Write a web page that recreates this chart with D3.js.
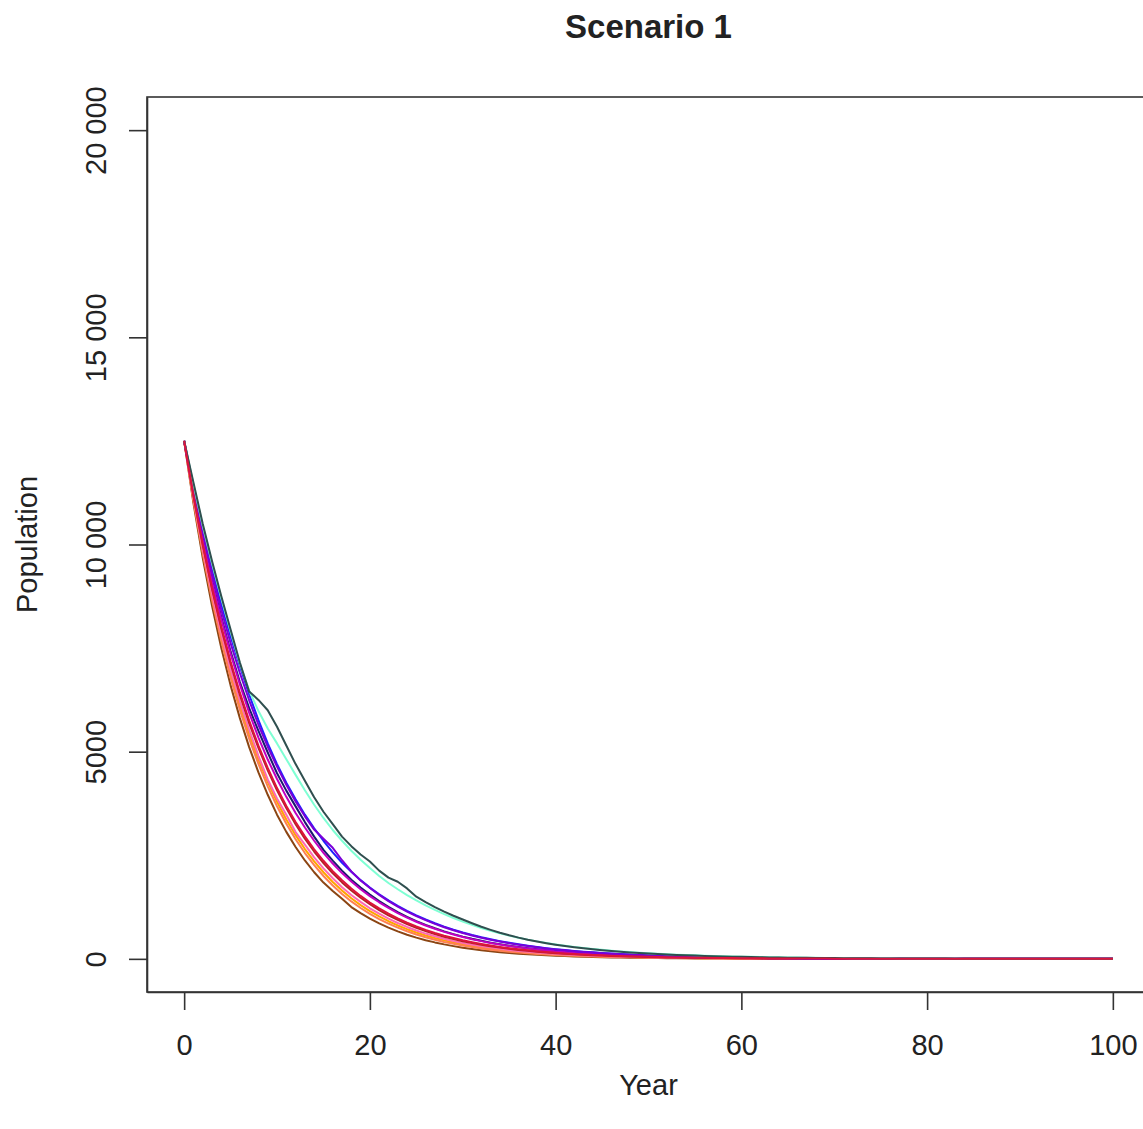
<!DOCTYPE html>
<html>
<head>
<meta charset="utf-8">
<script src="https://cdn.jsdelivr.net/npm/d3@7"></script>
<style>
  body { margin: 0; background: #fff; }
  svg { display: block; font-family: "Liberation Sans", Arial, sans-serif; }
</style>
</head>
<body>
<svg id="chart" width="1143" height="1129"></svg>
<script>
// years of the simulation
var years = [0, 1, 2, 3, 4, 5, 6, 7, 8, 9, 10,
  11, 12, 13, 14, 15, 16, 17, 18, 19, 20,
  21, 22, 23, 24, 25, 26, 27, 28, 29, 30,
  31, 32, 33, 34, 35, 36, 37, 38, 39, 40,
  41, 42, 43, 44, 45, 46, 47, 48, 49, 50,
  51, 52, 53, 54, 55, 56, 57, 58, 59, 60,
  61, 62, 63, 64, 65, 66, 67, 68, 69, 70,
  71, 72, 73, 74, 75, 76, 77, 78, 79, 80,
  81, 82, 83, 84, 85, 86, 87, 88, 89, 90,
  91, 92, 93, 94, 95, 96, 97, 98, 99, 100];

// population per run
var runSaddle = [12500, 11000, 9680, 8520, 7500, 6600, 5810, 5110, 4500, 3960, 3480,
  3065, 2700, 2375, 2090, 1840, 1640, 1450, 1250, 1105, 972,
  855, 752, 662, 583, 513, 451, 397, 349, 307, 270,
  238, 209, 184, 162, 143, 126, 111, 97, 86, 75,
  66, 58, 51, 45, 40, 35, 31, 27, 24, 21,
  18, 16, 14, 12, 11, 10, 9, 8, 7, 6,
  5, 5, 4, 4, 3, 3, 2, 2, 2, 2,
  2, 1, 1, 1, 1, 1, 1, 1, 1, 0,
  0, 0, 0, 0, 0, 0, 0, 0, 0, 0,
  0, 0, 0, 0, 0, 0, 0, 0, 0, 0];
var runOrange = [12500, 11090, 9840, 8730, 7750, 6880, 6110, 5420, 4810, 4270, 3790,
  3365, 2985, 2650, 2355, 2090, 1855, 1647, 1462, 1298, 1152,
  1023, 908, 806, 716, 636, 565, 502, 446, 396, 352,
  312, 277, 246, 219, 194, 172, 153, 136, 121, 107,
  95, 85, 75, 67, 59, 53, 47, 42, 37, 33,
  29, 26, 23, 20, 18, 16, 14, 13, 11, 10,
  9, 8, 7, 6, 6, 5, 4, 4, 4, 3,
  3, 3, 2, 2, 2, 2, 1, 1, 1, 1,
  1, 1, 1, 1, 1, 1, 0, 0, 0, 0,
  0, 0, 0, 0, 0, 0, 0, 0, 0, 0];
var runCoral = [12500, 11063, 9790, 8664, 7668, 6786, 6006, 5315, 4704, 4163, 3684,
  3260, 2885, 2554, 2260, 2000, 1770, 1567, 1386, 1227, 1086,
  961, 850, 753, 666, 589, 522, 462, 409, 362, 320,
  283, 251, 222, 196, 174, 154, 136, 120, 107, 94,
  83, 74, 65, 58, 51, 45, 40, 36, 32, 28,
  25, 22, 19, 17, 15, 14, 12, 11, 9, 8,
  7, 7, 6, 5, 5, 4, 4, 3, 3, 3,
  2, 2, 2, 2, 2, 1, 1, 1, 1, 1,
  1, 1, 1, 1, 1, 1, 0, 0, 0, 0,
  0, 0, 0, 0, 0, 0, 0, 0, 0, 0];
var runPink = [12500, 11125, 9900, 8810, 7845, 6980, 6215, 5530, 4900, 4330, 3870,
  3480, 3060, 2755, 2450, 2185, 1945, 1730, 1540, 1375, 1220,
  1090, 970, 865, 770, 685, 610, 545, 485, 430, 385,
  342, 305, 272, 242, 215, 192, 171, 152, 136, 121,
  108, 96, 86, 76, 68, 61, 54, 48, 43, 38,
  34, 30, 27, 24, 21, 19, 17, 15, 13, 12,
  11, 10, 8, 7, 7, 6, 5, 5, 4, 4,
  3, 3, 3, 2, 2, 2, 2, 2, 1, 1,
  1, 1, 1, 1, 1, 1, 1, 0, 0, 0,
  0, 0, 0, 0, 0, 0, 0, 0, 0, 0];
var runFirebrick = [12500, 11180, 9990, 8930, 7980, 7130, 6370, 5690, 5090, 4550, 4070,
  3640, 3250, 2900, 2590, 2310, 2065, 1845, 1650, 1475, 1318,
  1178, 1052, 940, 840, 750, 670, 598, 534, 477, 426,
  381, 340, 304, 271, 242, 216, 193, 172, 154, 137,
  122, 109, 97, 87, 78, 69, 62, 55, 49, 44,
  39, 35, 31, 28, 25, 22, 20, 18, 16, 14,
  13, 11, 10, 9, 8, 7, 6, 6, 5, 5,
  4, 4, 3, 3, 3, 2, 2, 2, 2, 2,
  1, 1, 1, 1, 1, 1, 1, 1, 1, 0,
  0, 0, 0, 0, 0, 0, 0, 0, 0, 0];
var runNavy = [12500, 11300, 10150, 9150, 8250, 7420, 6680, 6050, 5500, 4980, 4480,
  4060, 3680, 3300, 2950, 2630, 2370, 2130, 1910, 1720, 1550,
  1395, 1255, 1130, 1015, 912, 820, 738, 664, 597, 537,
  483, 435, 391, 352, 317, 285, 257, 231, 208, 187,
  168, 151, 136, 123, 110, 99, 89, 80, 72, 65,
  59, 53, 47, 43, 38, 34, 31, 28, 25, 23,
  20, 18, 16, 15, 13, 12, 11, 10, 9, 8,
  7, 6, 6, 5, 5, 4, 4, 3, 3, 3,
  3, 2, 2, 2, 2, 2, 1, 1, 1, 1,
  1, 1, 1, 1, 1, 1, 0, 0, 0, 0];
var runMagenta = [12500, 11250, 10120, 9110, 8200, 7370, 6620, 5940, 5340, 4810, 4340,
  3910, 3520, 3170, 2850, 2560, 2300, 2070, 1865, 1680, 1515,
  1365, 1228, 1105, 995, 895, 806, 725, 652, 587, 528,
  475, 428, 385, 347, 312, 281, 253, 227, 205, 184,
  166, 149, 134, 121, 109, 98, 88, 79, 71, 64,
  58, 52, 47, 42, 38, 34, 31, 28, 25, 22,
  20, 18, 16, 15, 13, 12, 11, 10, 9, 8,
  7, 6, 6, 5, 5, 4, 4, 3, 3, 3,
  3, 2, 2, 2, 2, 2, 1, 1, 1, 1,
  1, 1, 1, 1, 1, 1, 0, 0, 0, 0];
var runBlue = [12500, 11350, 10350, 9420, 8560, 7780, 7060, 6380, 5760, 5200, 4700,
  4250, 3850, 3480, 3150, 2850, 2570, 2320, 2100, 1900, 1720,
  1560, 1410, 1280, 1160, 1050, 950, 860, 778, 704, 637,
  576, 521, 472, 427, 386, 350, 316, 286, 259, 234,
  212, 192, 174, 158, 143, 129, 117, 106, 96, 87,
  78, 71, 64, 58, 53, 48, 43, 39, 35, 32,
  28, 26, 23, 21, 19, 17, 16, 14, 13, 11,
  10, 9, 8, 8, 7, 6, 6, 5, 5, 4,
  4, 3, 3, 3, 3, 2, 2, 2, 2, 2,
  1, 1, 1, 1, 1, 1, 1, 1, 1, 1];
var runViolet = [12500, 11400, 10300, 9300, 8420, 7620, 6900, 6240, 5650, 5120, 4640,
  4200, 3800, 3440, 3120, 2900, 2680, 2380, 2110, 1890, 1710,
  1545, 1395, 1262, 1141, 1033, 934, 845, 764, 691, 625,
  565, 511, 462, 418, 378, 342, 309, 279, 252, 228,
  206, 186, 168, 152, 137, 124, 112, 101, 91, 82,
  74, 67, 60, 54, 49, 44, 40, 36, 32, 29,
  26, 24, 21, 19, 17, 16, 14, 13, 11, 10,
  9, 8, 7, 7, 6, 5, 5, 4, 4, 4,
  3, 3, 3, 2, 2, 2, 2, 2, 1, 1,
  1, 1, 1, 1, 1, 1, 1, 1, 0, 0];
var runAqua = [12500, 11450, 10450, 9550, 8700, 7900, 7120, 6480, 5980, 5560, 5200,
  4820, 4440, 4070, 3720, 3400, 3110, 2850, 2610, 2390, 2190,
  2000, 1830, 1680, 1540, 1410, 1290, 1180, 1080, 985, 900,
  820, 745, 678, 617, 561, 510, 464, 422, 384, 349,
  318, 289, 263, 239, 217, 198, 180, 164, 149, 136,
  123, 112, 102, 93, 85, 77, 70, 64, 58, 53,
  48, 44, 40, 36, 33, 30, 27, 25, 23, 21,
  19, 17, 15, 14, 13, 12, 11, 10, 9, 8,
  7, 7, 6, 5, 5, 5, 4, 4, 3, 3,
  3, 3, 2, 2, 2, 2, 2, 1, 1, 1];
var runSlate = [12500, 11500, 10500, 9600, 8750, 7950, 7150, 6450, 6250, 6000, 5600,
  5150, 4700, 4300, 3900, 3550, 3250, 2950, 2720, 2520, 2350,
  2130, 1960, 1860, 1700, 1500, 1370, 1250, 1140, 1040, 950,
  860, 775, 700, 630, 568, 512, 462, 418, 378, 342,
  310, 281, 255, 231, 209, 190, 172, 156, 141, 128,
  116, 105, 95, 86, 78, 71, 64, 58, 53, 48,
  43, 39, 35, 32, 29, 26, 24, 22, 20, 18,
  16, 15, 13, 12, 11, 10, 9, 8, 7, 7,
  6, 6, 5, 5, 4, 4, 4, 3, 3, 3,
  3, 2, 2, 2, 2, 2, 1, 1, 1, 1];
var runCrimson = [12500, 11188, 10013, 8961, 8020, 7178, 6424, 5750, 5146, 4606, 4122,
  3689, 3302, 2955, 2645, 2367, 2118, 1896, 1697, 1519, 1359,
  1216, 1089, 974, 872, 780, 698, 625, 559, 501, 448,
  401, 359, 321, 288, 257, 230, 206, 184, 165, 148,
  132, 118, 106, 95, 85, 76, 68, 61, 54, 49,
  44, 39, 35, 31, 28, 25, 22, 20, 18, 16,
  14, 13, 11, 10, 9, 8, 7, 7, 6, 5,
  5, 4, 4, 3, 3, 3, 3, 2, 2, 2,
  2, 2, 1, 1, 1, 1, 1, 1, 1, 1,
  1, 1, 1, 0, 0, 0, 0, 0, 0, 0];

var runs = [runSaddle, runOrange, runCoral, runPink, runFirebrick, runNavy,
  runMagenta, runBlue, runViolet, runAqua, runSlate, runCrimson];
var runColors = ["#8b4513", "#ffa500", "#ff7f50", "#ff69b4", "#b22222", "#191970",
  "#c000c0", "#2020ff", "#7a00d8", "#7fffd4", "#2f4f4f", "#dc143c"];

var xTicks = [0, 20, 40, 60, 80, 100];
var yTicks = [0, 5000, 10000, 15000, 20000];
var yTickLabels = ["0", "5000", "10 000", "15 000", "20 000"];

// plot box (R style: 4% padding on each side)
var box = { left: 147, right: 1150, top: 97, bottom: 992 };

var svg = d3.select("#chart");

var x = d3.scaleLinear().domain([-4, 104]).range([box.left, box.right]);
var y = d3.scaleLinear().domain([-800, 20800]).range([box.bottom, box.top]);

var ink = "#222";

// lines
var line = d3.line()
  .x(function(d, i) { return x(years[i]); })
  .y(function(d) { return y(d); });

svg.append("g")
  .selectAll("path")
  .data(runs)
  .enter()
  .append("path")
  .attr("fill", "none")
  .attr("stroke", function(d, i) { return runColors[i]; })
  .attr("stroke-width", 2)
  .attr("stroke-linejoin", "round")
  .attr("d", line);

// box
svg.append("rect")
  .attr("x", box.left).attr("y", box.top)
  .attr("width", box.right - box.left).attr("height", box.bottom - box.top)
  .attr("fill", "none").attr("stroke", "#333").attr("stroke-width", 1.6);

// x axis
var xAxis = d3.axisBottom(x).tickValues(xTicks).tickSize(18).tickSizeOuter(0);
var xg = svg.append("g")
  .attr("transform", "translate(0," + box.bottom + ")")
  .call(xAxis);
xg.select(".domain").attr("stroke", "#333").attr("stroke-width", 1.6);
xg.selectAll("line").attr("stroke", "#333").attr("stroke-width", 1.6);
xg.selectAll("text")
  .attr("y", 63).attr("dy", 0)
  .attr("fill", ink)
  .attr("font-size", "29px")
  .attr("font-family", "Liberation Sans, Arial, sans-serif");

// y axis
var yAxis = d3.axisLeft(y).tickValues(yTicks).tickSize(18).tickSizeOuter(0)
  .tickFormat(function(d, i) { return yTickLabels[i]; });
var yg = svg.append("g")
  .attr("transform", "translate(" + box.left + ",0)")
  .call(yAxis);
yg.select(".domain").attr("stroke", "#333").attr("stroke-width", 1.6);
yg.selectAll("line").attr("stroke", "#333").attr("stroke-width", 1.6);
yg.selectAll("text")
  .attr("x", 0).attr("dy", 0)
  .attr("text-anchor", "middle")
  .attr("transform", "translate(-41,0) rotate(-90)")
  .attr("fill", ink)
  .attr("font-size", "29px")
  .attr("font-family", "Liberation Sans, Arial, sans-serif");

// title and axis titles
var midX = (box.left + box.right) / 2;
var midY = (box.top + box.bottom) / 2;

svg.append("text")
  .attr("x", midX).attr("y", 38)
  .attr("text-anchor", "middle")
  .attr("font-weight", "bold")
  .attr("font-size", "33px")
  .attr("fill", ink)
  .text("Scenario 1");

svg.append("text")
  .attr("x", midX).attr("y", 1095)
  .attr("text-anchor", "middle")
  .attr("font-size", "29px")
  .attr("fill", ink)
  .text("Year");

svg.append("text")
  .attr("transform", "translate(37," + midY + ") rotate(-90)")
  .attr("text-anchor", "middle")
  .attr("font-size", "29px")
  .attr("fill", ink)
  .text("Population");
</script>
</body>
</html>
